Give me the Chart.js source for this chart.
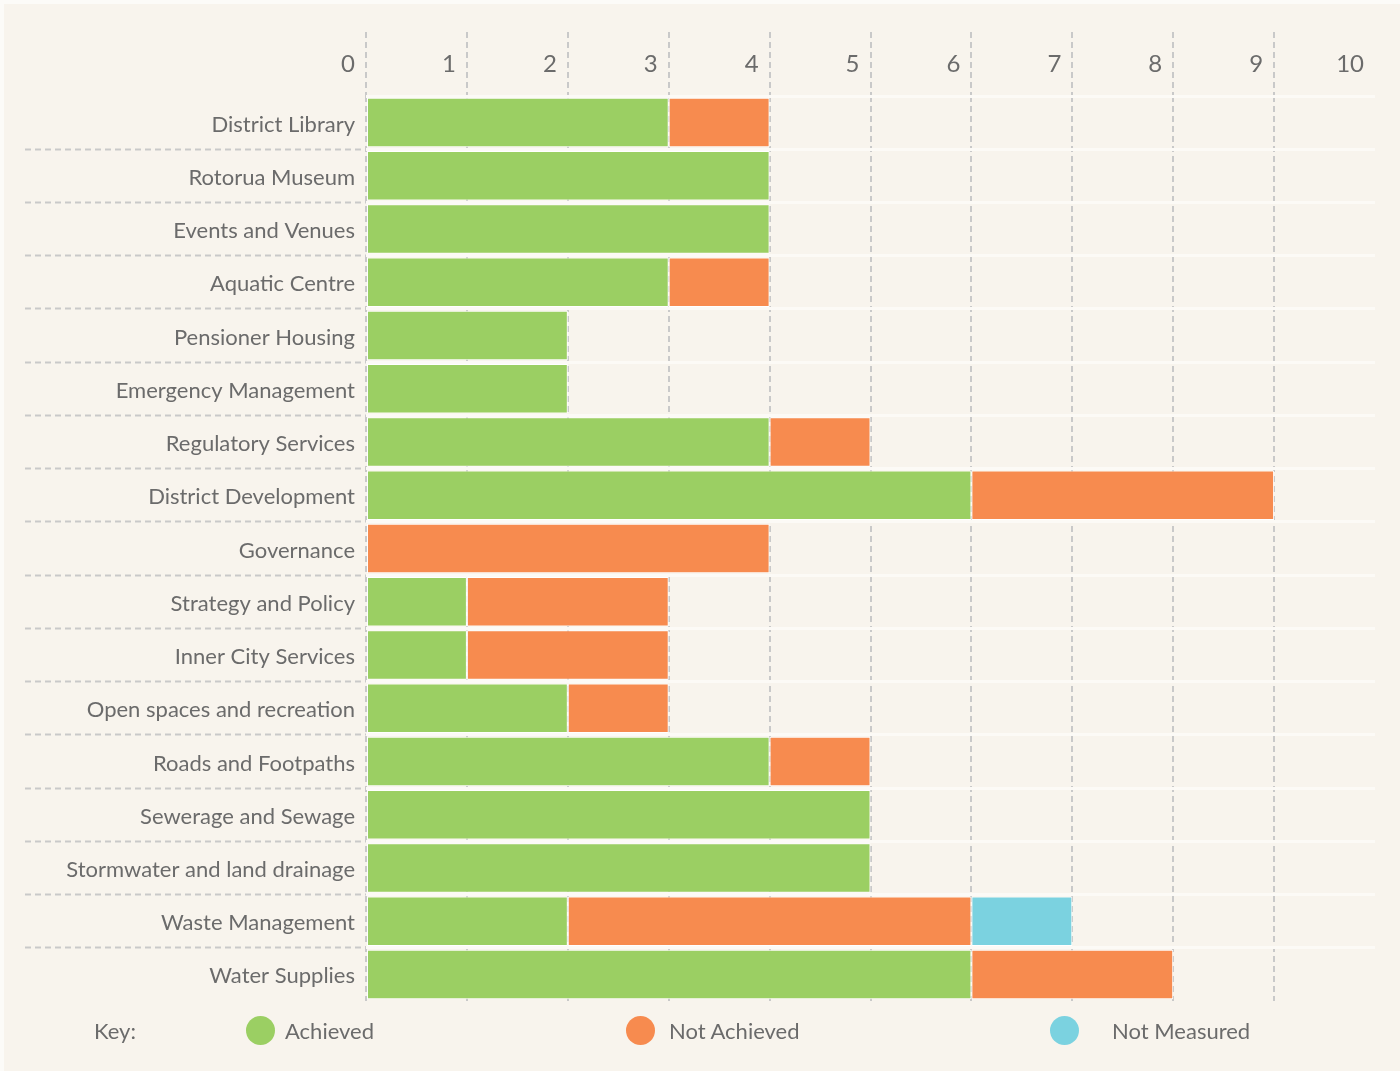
<!DOCTYPE html>
<html>
<head>
<meta charset="utf-8">
<script src="https://cdn.jsdelivr.net/npm/chart.js@4/dist/chart.umd.min.js"></script>
<style>
    body { margin: 0; background: #fcfbf8; font-family: Lato, "Open Sans", sans-serif; }
    #bg { position: absolute; left: 4px; top: 4px; width: 1396px; height: 1067px; background: #f8f4ed; }
    #wrap { position: absolute; left: 0; top: 0; width: 1400px; height: 1071px; }
    .key { position: absolute; top: 1016px; height: 30px; line-height: 30px; font-size: 22px; color: #6b6b6b; white-space: nowrap; }
    .dot { position: absolute; top: 1016px; width: 29px; height: 29px; border-radius: 50%; }
</style>
</head>
<body>
<div id="bg"></div>
<div id="wrap"><canvas id="chart" width="1400" height="1071"></canvas></div>
<div id="legend"></div>
<script>
const categories = [
    "District Library", "Rotorua Museum", "Events and Venues", "Aquatic Centre",
    "Pensioner Housing", "Emergency Management", "Regulatory Services",
    "District Development", "Governance", "Strategy and Policy", "Inner City Services",
    "Open spaces and recreation", "Roads and Footpaths", "Sewerage and Sewage",
    "Stormwater and land drainage", "Waste Management", "Water Supplies"
];
const achieved    = [3, 4, 4, 3, 2, 2, 4, 6, 0, 1, 1, 2, 4, 5, 5, 2, 6];
const notAchieved = [1, 0, 0, 1, 0, 0, 1, 3, 4, 2, 2, 1, 1, 0, 0, 4, 2];
const notMeasured = [0, 0, 0, 0, 0, 0, 0, 0, 0, 0, 0, 0, 0, 0, 0, 1, 0];
const seriesNames = ["Achieved", "Not Achieved", "Not Measured"];
const xMin = 0, xMax = 10, xStep = 1;

const GREEN = "#9bcf63";
const ORANGE = "#f78b4f";
const CYAN = "#7bd2e0";
const TEXT = "#6b6b6b";
const GRID = "#c9c9c9";
const NONE = "rgba(0,0,0,0)";
const FONT = "Lato, 'Open Sans', sans-serif";

const colours = [GREEN, ORANGE, CYAN];
const values = [achieved, notAchieved, notMeasured];

// legend along the bottom
const legend = document.getElementById("legend");
const keyLabel = document.createElement("div");
keyLabel.className = "key";
keyLabel.style.left = "94px";
keyLabel.textContent = "Key:";
legend.appendChild(keyLabel);
const dotX = [246, 626, 1050];
const textX = [285, 669, 1112];
seriesNames.forEach((name, i) => {
    const dot = document.createElement("div");
    dot.className = "dot";
    dot.style.left = dotX[i] + "px";
    dot.style.background = colours[i];
    legend.appendChild(dot);
    const t = document.createElement("div");
    t.className = "key";
    t.style.left = textX[i] + "px";
    t.textContent = name;
    legend.appendChild(t);
});

// no grid line on the last x tick (10)
const xGridColour = ctx => (ctx.type === "tick" && ctx.tick.value < xMax) ? GRID : NONE;

new Chart(document.getElementById("chart"), {
    type: "bar",
    data: {
        labels: categories,
        datasets: seriesNames.map((name, i) => ({
            label: name,
            data: values[i],
            backgroundColor: colours[i],
            borderColor: "#ffffff",
            borderWidth: ctx => ctx.raw ? 1 : 0,
            borderSkipped: false,
            barPercentage: 0.93,
            categoryPercentage: 1
        }))
    },
    options: {
        indexAxis: "y",
        responsive: false,
        animation: false,
        devicePixelRatio: 1,
        layout: { padding: { top: 32, right: 25, bottom: 70, left: 0 } },
        plugins: { legend: { display: false }, tooltip: { enabled: false } },
        scales: {
            x: {
                type: "linear",
                position: "top",
                stacked: true,
                min: xMin,
                max: xMax,
                ticks: {
                    stepSize: xStep,
                    align: "end",
                    labelOffset: -11,
                    padding: -47,
                    color: TEXT,
                    font: { family: FONT, size: 24 }
                },
                grid: {
                    color: xGridColour,
                    lineWidth: 2,
                    tickLength: 64,
                    tickColor: xGridColour,
                    tickWidth: 2,
                    tickBorderDash: [6, 4]
                },
                border: { display: false, dash: [6, 4] },
                afterFit: s => { s.height = 64; }
            },
            y: {
                position: "left",
                stacked: true,
                ticks: {
                    padding: -330,
                    labelOffset: 2,
                    color: TEXT,
                    font: { family: FONT, size: 22 }
                },
                grid: {
                    offset: true,
                    color: ctx => ctx.type === "tick" ? "#fcfaf6" : NONE,
                    lineWidth: 3,
                    tickLength: 341,
                    tickWidth: 2,
                    tickBorderDash: [6, 4],
                    tickColor: ctx => (ctx.type === "tick" && ctx.index > 0) ? GRID : NONE
                },
                border: { display: false },
                afterFit: s => { s.width = 366; }
            }
        }
    }
});
</script>
</body>
</html>
